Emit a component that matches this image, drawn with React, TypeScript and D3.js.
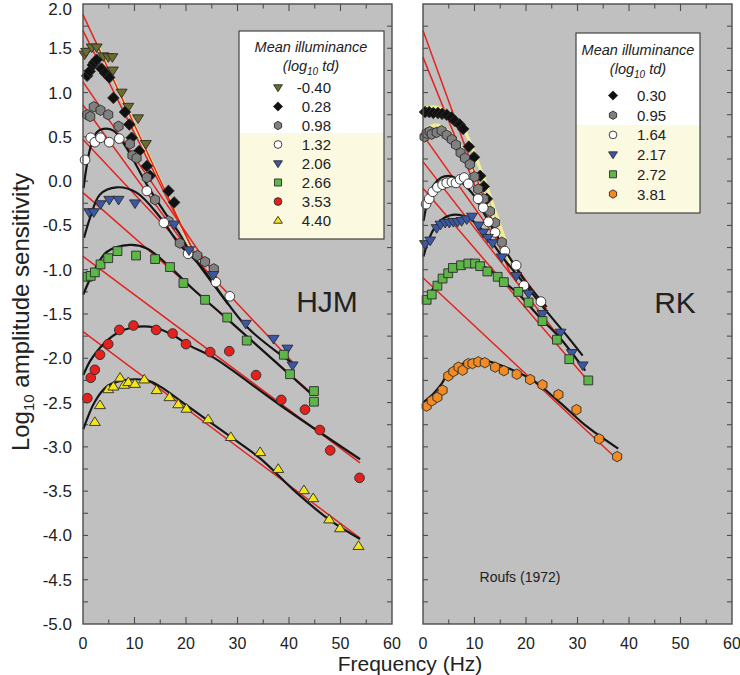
import React from "react";
import * as d3 from "d3";

type P = [number, number];

// ---------- HJM (left panel) ----------
const hjmLevels = ["-0.40", "0.28", "0.98", "1.32", "2.06", "2.66", "3.53", "4.40"];
const hjm_m040: P[] = [[0.3,1.43],[0.6,1.46],[1.7,1.51],[2.65,1.51],[3.95,1.41],[4.9,1.40],[5.7,1.40],[5.8,1.25],[7.5,1.00],[8.8,0.84],[10.7,0.71],[12.2,0.42]];
const hjm_028: P[] = [[0.8,1.19],[1.3,1.24],[1.9,1.31],[2.2,1.34],[2.65,1.37],[3.6,1.27],[4.3,1.22],[5.1,1.17],[5.9,0.94],[8.15,0.78],[9.0,0.64],[9.45,0.49],[10.9,0.34],[12.4,0.17],[13.0,0.06],[16.6,-0.11],[17.7,-0.24]];
const hjm_098: P[] = [[0.8,0.75],[1.4,0.73],[2.1,0.84],[3.4,0.80],[4.9,0.75],[6.9,0.62],[9.1,0.42],[9.6,0.29],[10.4,0.26],[12.4,0.04],[14.0,-0.21],[16.6,-0.45],[18.8,-0.70],[22.2,-0.84],[23.7,-0.91],[25.4,-0.99]];
const hjm_132: P[] = [[0.4,0.24],[1.5,0.49],[2.3,0.44],[3.4,0.49],[5.1,0.44],[7.05,0.48],[12.4,-0.11],[15.7,-0.47],[20.4,-0.82],[25.8,-1.14],[28.5,-1.30]];
const hjm_206: P[] = [[1.2,-0.35],[2.1,-0.35],[3.4,-0.26],[5.1,-0.21],[6.9,-0.21],[10.1,-0.25],[17.7,-0.49],[20.6,-0.78],[25.3,-1.06],[31.6,-1.61],[37.0,-1.78],[39.7,-1.89],[40.7,-2.08]];
const hjm_266: P[] = [[0.9,-1.08],[1.5,-1.07],[2.3,-1.03],[3.4,-0.94],[4.9,-0.87],[6.7,-0.79],[10.3,-0.84],[14.0,-0.88],[16.9,-0.97],[19.5,-1.15],[23.7,-1.34],[28.0,-1.54],[31.8,-1.80],[39.0,-1.96],[40.2,-2.18],[44.85,-2.37],[44.85,-2.49]];
const hjm_353: P[] = [[0.84,-2.45],[1.5,-2.22],[2.3,-2.13],[3.3,-1.96],[4.9,-1.84],[7.05,-1.68],[9.8,-1.63],[14.2,-1.68],[17.4,-1.72],[20.0,-1.84],[24.7,-1.93],[28.4,-1.92],[33.6,-2.19],[38.5,-2.47],[43.1,-2.58],[46.0,-2.81],[48.0,-3.04],[53.7,-3.35]];
const hjm_440: P[] = [[2.3,-2.72],[3.3,-2.53],[4.9,-2.35],[5.9,-2.32],[7.2,-2.22],[8.0,-2.30],[8.8,-2.27],[10.1,-2.29],[11.9,-2.24],[14.3,-2.36],[16.8,-2.44],[18.5,-2.52],[20.1,-2.57],[24.3,-2.69],[28.7,-2.89],[34.4,-3.06],[37.9,-3.25],[42.9,-3.49],[44.7,-3.58],[47.8,-3.82],[49.9,-3.92],[53.5,-4.12]];
const hjmPoints: P[][] = [hjm_m040, hjm_028, hjm_098, hjm_132, hjm_206, hjm_266, hjm_353, hjm_440];

// straight high-frequency asymptotes (red)
const hjmAsymptotes: P[][] = [
  [[0,1.88],[21.5,-0.80]],
  [[0,1.70],[22,-0.85]],
  [[0,1.12],[26,-1.09]],
  [[0,0.86],[28.3,-1.40]],
  [[0,0.47],[40.8,-2.05]],
  [[0,-0.13],[44.5,-2.40]],
  [[0,-0.85],[53.8,-3.18]],
  [[0,-1.70],[53.8,-4.03]],
];
const hjmPaleFits: P[][] = [[[3.0,1.51],[21.4,-0.80]]];
const hjmFits: P[][] = [
  [[0.1,-0.08],[1.4,0.37],[2.65,0.55],[3.95,0.59],[5.9,0.57],[8.5,0.37],[12.4,-0.04],[15.6,-0.33],[18.8,-0.60],[20.8,-0.80],[28.2,-1.39]],
  [[0.2,-0.64],[1.4,-0.41],[3.3,-0.15],[6.5,-0.07],[10.4,-0.13],[15.0,-0.41],[18.8,-0.72],[22.7,-0.95],[31.8,-1.645],[40.8,-2.06]],
  [[0.06,-1.28],[2.0,-1.03],[4.6,-0.80],[9.1,-0.72],[12.4,-0.76],[16.9,-0.97],[21.4,-1.22],[27.9,-1.55],[44.1,-2.39]],
  [[0.06,-2.19],[1.4,-2.03],[3.3,-1.88],[6.5,-1.72],[9.8,-1.65],[13.7,-1.65],[17.5,-1.74],[20.8,-1.86],[25.3,-1.99],[38.3,-2.53],[53.8,-3.14]],
  [[0.06,-2.80],[2.3,-2.49],[4.6,-2.32],[7.8,-2.25],[12.4,-2.25],[15.0,-2.32],[20.1,-2.53],[28.5,-2.88],[34.4,-3.13],[41.5,-3.52],[48.0,-3.83],[53.8,-4.04]],
];

// ---------- RK (right panel) ----------
const rkLevels = ["0.30", "0.95", "1.64", "2.17", "2.72", "3.81"];
const rk_030: P[] = [[0.4,0.78],[1.2,0.78],[2.0,0.77],[2.9,0.77],[3.7,0.76],[4.6,0.75],[5.5,0.72],[6.2,0.68],[7.1,0.64],[7.8,0.59],[8.9,0.39],[9.9,0.27],[11.1,0.06],[11.8,-0.06],[12.4,-0.20]];
const rk_095: P[] = [[0.3,0.50],[0.7,0.54],[1.3,0.56],[1.7,0.53],[2.65,0.55],[3.6,0.57],[4.6,0.52],[5.6,0.47],[6.4,0.41],[7.3,0.32],[8.15,0.26],[9.1,0.19],[10.0,0.05],[10.7,-0.09],[11.8,-0.20],[13.0,-0.34],[14.0,-0.47],[15.3,-0.69]];
const rk_164: P[] = [[0.6,-0.26],[1.2,-0.20],[1.9,-0.12],[2.8,-0.07],[3.8,-0.04],[4.6,-0.02],[5.6,-0.01],[6.4,-0.02],[7.2,0.02],[8.0,0.04],[8.8,-0.03],[10.7,-0.20],[11.7,-0.30],[12.7,-0.46],[14.0,-0.58],[15.9,-0.79],[18.1,-0.95],[19.6,-1.18],[22.9,-1.36]];
const rk_217: P[] = [[0.4,-0.71],[1.4,-0.67],[2.65,-0.53],[3.4,-0.49],[4.3,-0.47],[5.1,-0.47],[5.9,-0.46],[6.7,-0.46],[7.5,-0.45],[8.5,-0.43],[9.5,-0.40],[10.8,-0.50],[11.7,-0.58],[12.6,-0.64],[13.5,-0.70],[15.3,-0.86],[18.1,-1.07],[20.5,-1.27],[23.2,-1.50],[26.7,-1.71],[28.9,-1.94],[31.0,-2.08]];
const rk_272: P[] = [[0.7,-1.34],[1.7,-1.28],[2.8,-1.18],[3.8,-1.10],[4.9,-1.04],[5.8,-0.98],[7.4,-0.95],[8.8,-0.93],[10.1,-0.93],[11.1,-0.96],[12.5,-1.02],[14.5,-1.08],[15.7,-1.14],[18.5,-1.25],[20.5,-1.37],[23.2,-1.58],[26.0,-1.79],[28.4,-2.01],[32.1,-2.25]];
const rk_381: P[] = [[0.7,-2.54],[1.7,-2.48],[2.8,-2.44],[3.8,-2.36],[4.9,-2.20],[5.9,-2.15],[6.9,-2.10],[7.7,-2.135],[8.8,-2.06],[9.6,-2.06],[10.75,-2.04],[12.0,-2.05],[14.0,-2.10],[15.7,-2.14],[18.2,-2.18],[20.8,-2.24],[23.2,-2.30],[26.3,-2.41],[29.8,-2.58],[34.2,-2.91],[37.7,-3.11]];
const rkPoints: P[][] = [rk_030, rk_095, rk_164, rk_217, rk_272, rk_381];

const rkAsymptotes: P[][] = [
  [[0,1.70],[16,-0.86]],
  [[0,1.40],[17,-1.05]],
  [[0,0.52],[24,-1.45]],
  [[0,0.22],[31,-2.10]],
  [[0,-0.08],[32,-2.25]],
  [[0,-1.09],[37.7,-3.14]],
];
const rkPaleFits: P[][] = [
  [[0,0.82],[2,0.84],[4,0.81],[6,0.74],[8,0.58],[10,0.31],[12,0.0],[14,-0.34],[16,-0.68]],
  [[0,0.55],[1.5,0.62],[3,0.63],[5,0.56],[7,0.42],[9,0.22],[11,-0.02],[13,-0.32],[15,-0.62],[17,-0.92]],
];
const rkFits: P[][] = [
  [[0.1,-0.45],[1,-0.2],[2,-0.05],[3.5,0.04],[5,0.06],[6.5,0.03],[8,-0.04],[10,-0.17],[12,-0.38],[14,-0.58],[17,-0.88],[20,-1.14],[24,-1.42]],
  [[0.1,-0.85],[1,-0.68],[2,-0.55],[3.5,-0.44],[5,-0.39],[7,-0.38],[9,-0.42],[11,-0.52],[13,-0.66],[16,-0.90],[20,-1.18],[24,-1.47],[28,-1.75],[31,-1.97]],
  [[0,-1.38],[2,-1.21],[4.6,-1.04],[7.2,-0.94],[9.8,-0.93],[12.4,-0.98],[15.6,-1.13],[18.8,-1.29],[22.7,-1.54],[26.6,-1.77],[31.5,-2.14]],
  [[0,-2.50],[2,-2.40],[3.6,-2.29],[5.25,-2.135],[7.8,-2.06],[10.75,-2.01],[13.7,-2.05],[17.5,-2.135],[21.4,-2.25],[26.6,-2.50],[31.8,-2.77],[37.9,-3.02]],
];

const xDomain: [number, number] = [0, 60];
const yDomain: [number, number] = [-5, 2];
const xTicks = d3.range(0, 61, 10);
const yLabelTicks = d3.range(-5, 2.01, 0.5);

// ---------- styling ----------
type Shape = "triDown" | "triUp" | "diamond" | "hexagon" | "circle" | "square";
const markerStyle: Record<string, { shape: Shape; fill: string }> = {
  "-0.40": { shape: "triDown", fill: "#6d6c2c" },
  "0.28": { shape: "diamond", fill: "#111111" },
  "0.30": { shape: "diamond", fill: "#111111" },
  "0.98": { shape: "hexagon", fill: "#808080" },
  "0.95": { shape: "hexagon", fill: "#808080" },
  "1.32": { shape: "circle", fill: "#ffffff" },
  "1.64": { shape: "circle", fill: "#ffffff" },
  "2.06": { shape: "triDown", fill: "#3a58a6" },
  "2.17": { shape: "triDown", fill: "#3a58a6" },
  "2.66": { shape: "square", fill: "#5db647" },
  "2.72": { shape: "square", fill: "#5db647" },
  "3.53": { shape: "circle", fill: "#e4211d" },
  "4.40": { shape: "triUp", fill: "#f4e41a" },
  "3.81": { shape: "hexagon", fill: "#f28b22" },
};

function markerPath(shape: Shape, s: number): string {
  switch (shape) {
    case "triDown":
      return `M${-s},${-s * 0.62}L${s},${-s * 0.62}L0,${s * 0.95}Z`;
    case "triUp":
      return `M${-s},${s * 0.62}L${s},${s * 0.62}L0,${-s * 0.95}Z`;
    case "diamond":
      return `M0,${-s * 1.05}L${s * 1.05},0L0,${s * 1.05}L${-s * 1.05},0Z`;
    case "hexagon": {
      const pts = d3.range(6).map((i) => {
        const a = (Math.PI / 3) * i - Math.PI / 2;
        return [Math.cos(a) * s * 0.95, Math.sin(a) * s * 0.95];
      });
      return "M" + pts.map((p) => p.join(",")).join("L") + "Z";
    }
    case "square":
      return `M${-s * 0.8},${-s * 0.8}h${s * 1.6}v${s * 1.6}h${-s * 1.6}Z`;
    default:
      return `M${-s * 0.88},0a${s * 0.88},${s * 0.88} 0 1,0 ${s * 1.76},0a${s * 0.88},${s * 0.88} 0 1,0 ${-s * 1.76},0Z`;
  }
}

function Marker({ level, x, y, s }: { level: string; x: number; y: number; s: number }) {
  const st = markerStyle[level];
  return (
    <path
      d={markerPath(st.shape, s)}
      transform={`translate(${x},${y})`}
      fill={st.fill}
      stroke="#2b2b2b"
      strokeWidth={0.9}
    />
  );
}

const TOP = 4;
const BOTTOM = 624;
const yScale = d3.scaleLinear().domain(yDomain).range([BOTTOM, TOP]);

type PanelProps = {
  x0: number;
  x1: number;
  levels: string[];
  points: P[][];
  asymptotes: P[][];
  pale: P[][];
  fits: P[][];
  showYLabels: boolean;
};

function Panel({ x0, x1, levels, points, asymptotes, pale, fits, showYLabels }: PanelProps) {
  const x = d3.scaleLinear().domain(xDomain).range([x0, x1]);
  const line = d3
    .line<P>()
    .x((d) => x(d[0]))
    .y((d) => yScale(d[1]));
  const curve = d3
    .line<P>()
    .x((d) => x(d[0]))
    .y((d) => yScale(d[1]))
    .curve(d3.curveCatmullRom.alpha(0.5));
  const axisColor = "#4d4d4d";
  const xMinor = d3.range(5, 60, 5);
  const yMinor = d3.range(-4.75, 2, 0.25);
  return (
    <g>
      <rect x={x0} y={TOP} width={x1 - x0} height={BOTTOM - TOP} fill="#c0c0c0" />
      {xMinor.map((t) => {
        const len = t % 10 === 0 ? 7 : 4.5;
        return (
          <g key={"xt" + t} stroke={axisColor} strokeWidth={1.1}>
            <line x1={x(t)} x2={x(t)} y1={BOTTOM} y2={BOTTOM - len} />
            <line x1={x(t)} x2={x(t)} y1={TOP} y2={TOP + len} />
          </g>
        );
      })}
      {yMinor.map((t) => (
        <g key={"yt" + t} stroke={axisColor} strokeWidth={1.1}>
          <line x1={x0} x2={x0 + 5} y1={yScale(t)} y2={yScale(t)} />
          <line x1={x1} x2={x1 - 5} y1={yScale(t)} y2={yScale(t)} />
        </g>
      ))}
      {pale.map((p, i) => (
        <path key={"pl" + i} d={curve(p) || ""} fill="none" stroke="#f2ec98" strokeWidth={3.2} />
      ))}
      {asymptotes.map((p, i) => (
        <path key={"as" + i} d={line(p) || ""} fill="none" stroke="#e3231e" strokeWidth={1.5} />
      ))}
      {fits.map((p, i) => (
        <path key={"ft" + i} d={curve(p) || ""} fill="none" stroke="#161616" strokeWidth={2.2} />
      ))}
      {points.map((series, i) =>
        series.map((d, j) => (
          <Marker key={`m${i}-${j}`} level={levels[i]} x={x(d[0])} y={yScale(d[1])} s={5.5} />
        ))
      )}
      <rect x={x0} y={TOP} width={x1 - x0} height={BOTTOM - TOP} fill="none" stroke={axisColor} strokeWidth={1.4} />
      {xTicks.map((t) => (
        <text key={"xl" + t} x={x(t)} y={649} textAnchor="middle" fontSize={16} fill="#222">
          {t}
        </text>
      ))}
      {showYLabels &&
        yLabelTicks.map((t) => (
          <text key={"yl" + t} x={72} y={Math.max(15, yScale(t) + 6)} textAnchor="end" fontSize={17} fill="#222">
            {(Math.abs(t) < 1e-9 ? 0 : t).toFixed(1)}
          </text>
        ))}
    </g>
  );
}

function Legend({
  x0, x1, y0, y1, yPale, titleX, t1, t2, rows, symX, textX, anchor, levels,
}: {
  x0: number; x1: number; y0: number; y1: number; yPale: number; titleX: number; t1: number; t2: number;
  rows: number[]; symX: number; textX: number; anchor: "start" | "end"; levels: string[];
}) {
  return (
    <g>
      <rect x={x0} y={y0} width={x1 - x0} height={y1 - y0} fill="#ffffff" />
      <rect x={x0} y={yPale} width={x1 - x0} height={y1 - yPale} fill="#fcf9e1" />
      <rect x={x0} y={y0} width={x1 - x0} height={y1 - y0} fill="none" stroke="#444" strokeWidth={1.2} />
      <text x={titleX} y={t1} textAnchor="middle" fontSize={14.5} fontStyle="italic" fill="#222">
        Mean illuminance
      </text>
      <text x={titleX} y={t2} textAnchor="middle" fontSize={14.5} fontStyle="italic" fill="#222">
        (log<tspan fontSize={10} dy={4}>10</tspan>
        <tspan dy={-4}> td)</tspan>
      </text>
      {levels.map((lv, i) => (
        <g key={lv}>
          <Marker level={lv} x={symX} y={rows[i]} s={4.4} />
          <text x={textX} y={rows[i] + 5.5} textAnchor={anchor} fontSize={15} fill="#222">
            {lv}
          </text>
        </g>
      ))}
    </g>
  );
}

export default function App() {
  const leftRows = d3.range(8).map((i) => 87.5 + i * 19.0);
  const rightRows = d3.range(6).map((i) => 95.5 + i * 19.7);
  return (
    <svg width={740} height={675} style={{ display: "block", position: "absolute", left: 0, top: 0 }}
      fontFamily="'Liberation Sans', Arial, sans-serif">
      <rect x={0} y={0} width={740} height={675} fill="#ffffff" />
      <Panel x0={83} x1={392} levels={hjmLevels} points={hjmPoints} asymptotes={hjmAsymptotes}
        pale={hjmPaleFits} fits={hjmFits} showYLabels={true} />
      <Panel x0={423} x1={732} levels={rkLevels} points={rkPoints} asymptotes={rkAsymptotes}
        pale={rkPaleFits} fits={rkFits} showYLabels={false} />
      <Legend x0={239} x1={384} y0={31} y1={239} yPale={133} titleX={311} t1={52} t2={71}
        rows={leftRows} symX={278} textX={331} anchor="end" levels={hjmLevels} />
      <Legend x0={576} x1={700} y0={33} y1={213} yPale={125} titleX={638} t1={55} t2={74}
        rows={rightRows} symX={613} textX={637} anchor="start" levels={rkLevels} />
      <text x={327} y={312} textAnchor="middle" fontSize={30} fill="#222">HJM</text>
      <text x={675} y={313} textAnchor="middle" fontSize={30} fill="#222">RK</text>
      <text x={520} y={582} textAnchor="middle" fontSize={14} fill="#222">Roufs (1972)</text>
      <text x={410} y={671} textAnchor="middle" fontSize={21} fill="#222">Frequency (Hz)</text>
      <text transform="translate(29,312) rotate(-90)" textAnchor="middle" fontSize={24} fill="#222">
        Log<tspan fontSize={15} dy={5}>10</tspan>
        <tspan dy={-5}> amplitude sensitivity</tspan>
      </text>
    </svg>
  );
}
